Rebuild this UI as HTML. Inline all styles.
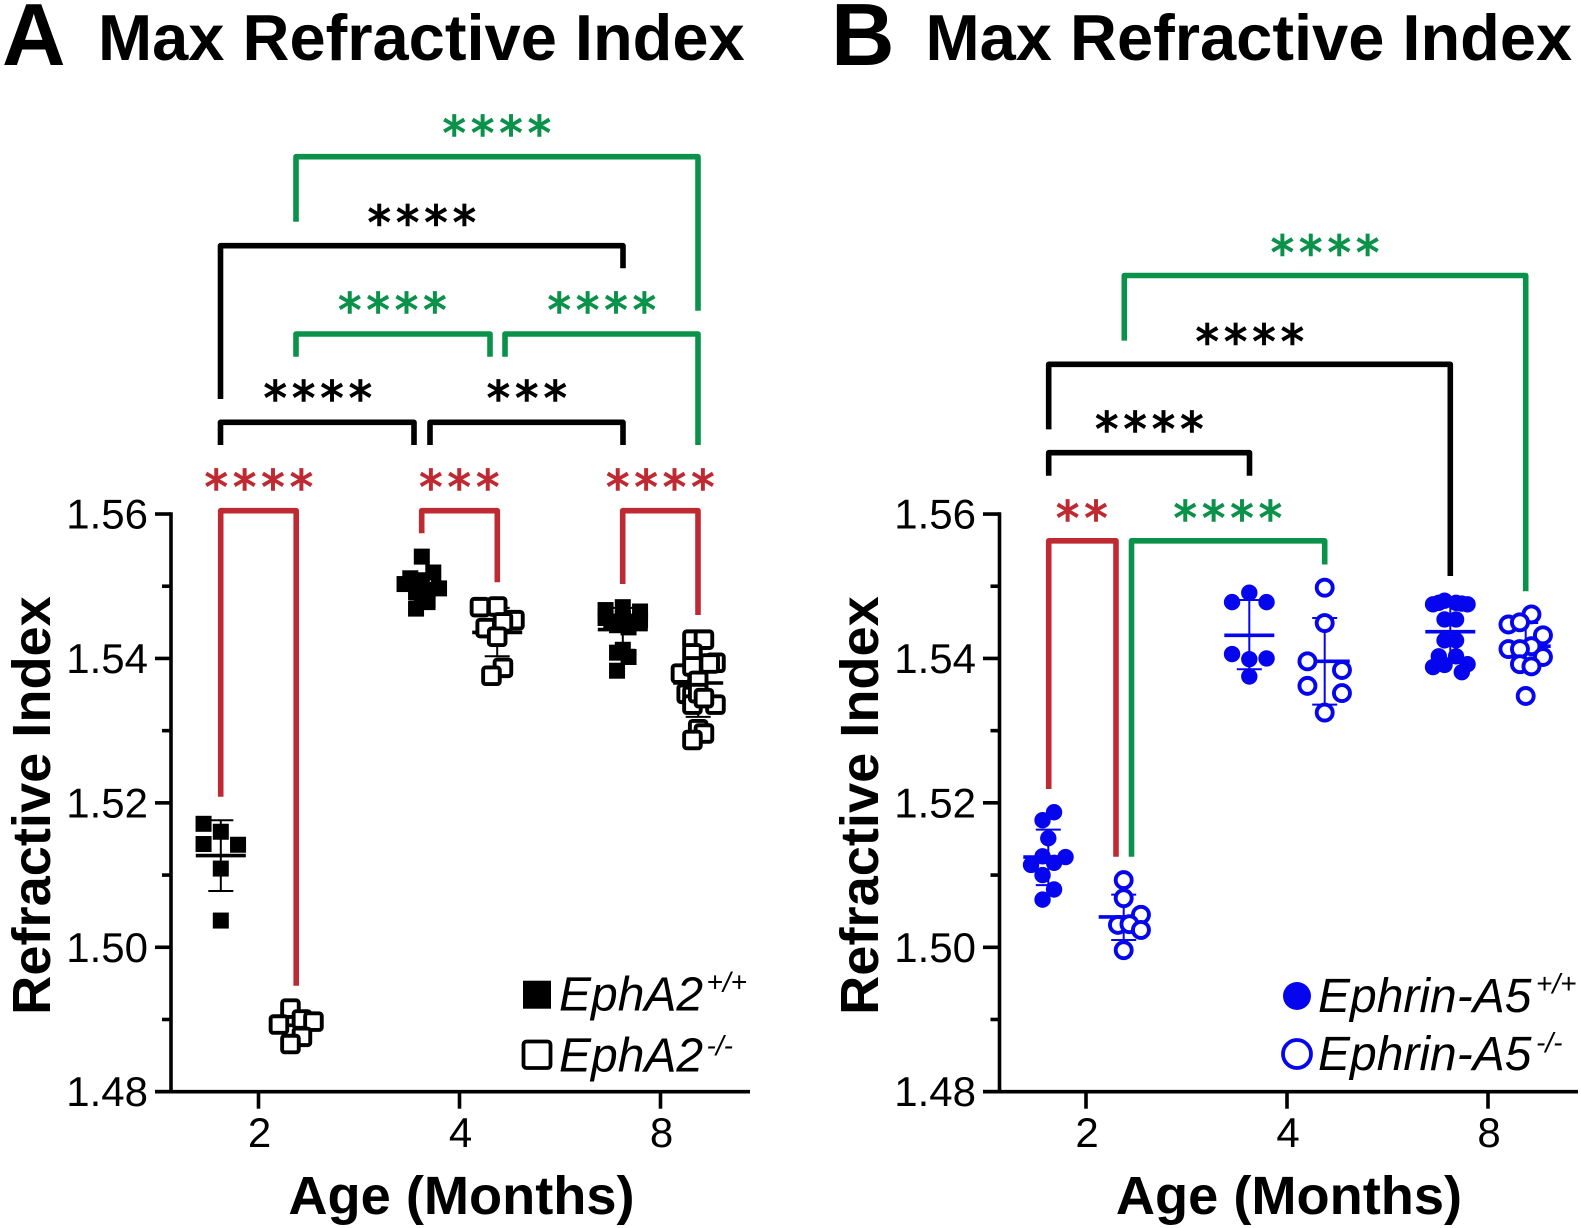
<!DOCTYPE html>
<html lang="en">
<head>
<meta charset="utf-8">
<title>Max Refractive Index</title>
<style>
html,body{margin:0;padding:0;background:#fff;}
svg{display:block;}
text{font-family:"Liberation Sans",Arial,sans-serif;fill:#000;}
.title{font-size:65px;font-weight:700;}
.letter{font-size:88px;font-weight:700;}
.axt{font-size:54.2px;font-weight:700;text-anchor:middle;}
.tick{font-size:42px;}
.leg{font-size:48px;font-style:italic;}
.sup{font-size:28px;font-style:italic;}
.stars{font-family:"DejaVu Sans",sans-serif;font-size:46px;letter-spacing:5.4px;text-anchor:middle;stroke-width:1.4px;}
.br{fill:none;stroke-width:5.6;stroke-linejoin:round;}
.red{stroke:#bf2a32;} .grn{stroke:#0b924a;} .blk{stroke:#000;}
.tred{fill:#bf2a32;stroke:#bf2a32;} .tgrn{fill:#0b924a;stroke:#0b924a;} .tblk{fill:#000;stroke:#000;}
</style>
</head>
<body>
<svg id="figure" xmlns="http://www.w3.org/2000/svg" width="1581" height="1228" viewBox="0 0 1581 1228">
  <rect width="1581" height="1228" fill="#fff"/>

  <text class="letter" x="2" y="65">A</text>
  <text class="title" x="98" y="60">Max Refractive Index</text>
  <text class="letter" x="831" y="65">B</text>
  <text class="title" x="925.5" y="60">Max Refractive Index</text>

  <text class="axt" x="50" y="0" transform="translate(50,805.5) rotate(-90) translate(-50,0)">Refractive Index</text>
  <text class="axt" x="878" y="0" transform="translate(878,805.5) rotate(-90) translate(-878,0)">Refractive Index</text>
  <text class="axt" x="461.5" y="1214">Age (Months)</text>
  <text class="axt" x="1289" y="1214">Age (Months)</text>

  <!-- Panel A significance brackets -->
  <g>
    <path class="br grn" d="M296 221.7V156.7H698V310.7"/>
    <text class="stars tgrn" x="499.5" y="149.5">****</text>
    <path class="br blk" d="M220.5 399V245.7H623V268.3"/>
    <text class="stars tblk" x="424.5" y="239">****</text>
    <path class="br grn" d="M296 356.7V334H490V356.7"/>
    <text class="stars tgrn" x="395" y="326.5">****</text>
    <path class="br grn" d="M505 356.7V334H698V445"/>
    <text class="stars tgrn" x="604.5" y="326.5">****</text>
    <path class="br blk" d="M220.5 445V422.3H414V445"/>
    <text class="stars tblk" x="320.5" y="414.5">****</text>
    <path class="br blk" d="M430 445V422.3H623V445"/>
    <text class="stars tblk" x="529.5" y="414.5">***</text>
    <path class="br red" d="M220.7 796.7V510.7H296.2V985.7"/>
    <text class="stars tred" x="261.5" y="503.5">****</text>
    <path class="br red" d="M421.7 533.3V510.7H497.3V582.3"/>
    <text class="stars tred" x="462" y="503.5">***</text>
    <path class="br red" d="M622.7 584V510.7H698V615"/>
    <text class="stars tred" x="663" y="503.5">****</text>
  </g>

  <!-- Panel B significance brackets -->
  <g>
    <path class="br grn" d="M1124.3 340.6V275.5H1525.7V591.3"/>
    <text class="stars tgrn" x="1327.7" y="269">****</text>
    <path class="br blk" d="M1048.7 429.4V364.3H1450.3V576"/>
    <text class="stars tblk" x="1252.5" y="358">****</text>
    <path class="br blk" d="M1048.7 475.7V452.7H1249.5V475.7"/>
    <text class="stars tblk" x="1152" y="445.7">****</text>
    <path class="br red" d="M1048.7 789V540.8H1116V856.7"/>
    <text class="stars tred" x="1084.5" y="534.5">**</text>
    <path class="br grn" d="M1131.5 856.7V540.8H1324.7V564.5"/>
    <text class="stars tgrn" x="1230.5" y="534.5">****</text>
  </g>

  <g id="panel-a"></g>
  <g id="panel-b"></g>

  <!-- Legends -->
  <g>
    <g>
      <rect x="523" y="980.7" width="28" height="28" fill="#000"/>
      <text class="leg" x="559" y="1010.7">EphA2</text>
      <text class="sup" x="706.5" y="991.7">+/+</text>
    </g>
    <g>
      <rect x="523.5" y="1041.5" width="27" height="26.5" rx="3" fill="#fff" stroke="#000" stroke-width="3.8"/>
      <text class="leg" x="559" y="1071.7">EphA2</text>
      <text class="sup" x="706.5" y="1055">-/-</text>
    </g>
  </g>
  <g>
    <g>
      <circle cx="1297" cy="996" r="14" fill="#0505ee"/>
      <text class="leg" x="1318" y="1012">Ephrin-A5</text>
      <text class="sup" x="1536" y="993">+/+</text>
    </g>
    <g>
      <circle cx="1297" cy="1054" r="14" fill="#fff" stroke="#0505ee" stroke-width="3.8"/>
      <text class="leg" x="1318" y="1070">Ephrin-A5</text>
      <text class="sup" x="1536" y="1052">-/-</text>
    </g>
  </g>
</svg>

<script>
// ---- axis data ----
const categories = ['2', '4', '8'];
const yTickLabels = ['1.48', '1.50', '1.52', '1.54', '1.56'];
const yMajorTicks = [1.48, 1.50, 1.52, 1.54, 1.56];
const yMinorTicks = [1.49, 1.51, 1.53, 1.55];

// ---- Panel A: EphA2 wild type ----
const aWt2 = [1.5171, 1.5160, 1.5143, 1.5142, 1.5109, 1.5037];
const aWt2Lanes = [-3, 0, -3, 3, 0, 0];
const aWt2Stats = [1.5127, 1.5176, 1.5078];
const aWt4 = [1.5541, 1.5519, 1.5511, 1.5503, 1.5506, 1.5497, 1.5495, 1.5492, 1.5481, 1.5469, 1.5478, 1.5488];
const aWt4Lanes = [0, 2, -2, -3, 0, 3, 1, -1, 1, -1, 1, 0];
const aWt4Stats = [1.5500, 1.5518, 1.5482];
const aWt8 = [1.5467, 1.5471, 1.5465, 1.5451, 1.5451, 1.5456, 1.5446, 1.5443, 1.5456, 1.5453, 1.5412, 1.5402, 1.5408, 1.5383];
const aWt8Lanes = [-3, 0, 3, -2, 2, 0, -1, 1, -3, 3, 0, 1, -1, -1];
const aWt8Stats = [1.5440, 1.5470, 1.5412];

// ---- Panel A: EphA2 knockout ----
const aKo2 = [1.4915, 1.4893, 1.4900, 1.4897, 1.4876, 1.4866];
const aKo2Lanes = [-1, -3, 1, 3, 1, -1];
const aKo2Stats = [1.4892, 1.4911, 1.4873];
const aKo4 = [1.5471, 1.5472, 1.5453, 1.5450, 1.5442, 1.5430, 1.5387, 1.5376];
const aKo4Lanes = [-3, 0, 3, 1, -2, 0, 1, -1];
const aKo4Stats = [1.5436, 1.5470, 1.5403];
const aKo8 = [1.5426, 1.5426, 1.5407, 1.5394, 1.5393, 1.5379, 1.5389, 1.5369, 1.5351, 1.5348, 1.5336, 1.5336, 1.5352, 1.5302, 1.5296, 1.5287, 1.5345];
const aKo8Lanes = [-1, 1, -1, 3, 2, -3, -1, 0, -2, -1, -1, 3, 0, 0, 1, -1, 1];
const aKo8Stats = [1.5366, 1.5413, 1.5319];

// ---- Panel B: Ephrin-A5 wild type ----
const bWt2 = [1.5187, 1.5176, 1.5151, 1.5126, 1.5125, 1.5117, 1.5114, 1.5100, 1.5080, 1.5066];
const bWt2Lanes = [1, -1, 0, -1, 3, 1, -3, -1, 1, -1];
const bWt2Stats = [1.5125, 1.5163, 1.5086];
const bWt4 = [1.5491, 1.5478, 1.5478, 1.5406, 1.5399, 1.5400, 1.5375];
const bWt4Lanes = [0, -3, 3, -3, 0, 3, 0];
const bWt4Stats = [1.5432, 1.5481, 1.5385];
const bWt8 = [1.5475, 1.5480, 1.5476, 1.5475, 1.5477, 1.5477, 1.5454, 1.5454, 1.5425, 1.5425, 1.5403, 1.5403, 1.5388, 1.5391, 1.5392, 1.5381];
const bWt8Lanes = [-3, -1, 2, 3, -2, 1, -1, 1, -1, 1, -2, 1, -3, -1, 3, 2];
const bWt8Stats = [1.5437, 1.5474, 1.5400];

// ---- Panel B: Ephrin-A5 knockout ----
const bKo2 = [1.5093, 1.5068, 1.5045, 1.5031, 1.5032, 1.5024, 1.4996];
const bKo2Lanes = [0, 0, 3, -1, 1, 3, 0];
const bKo2Stats = [1.5042, 1.5073, 1.5010];
const bKo4 = [1.5498, 1.5449, 1.5396, 1.5384, 1.5362, 1.5352, 1.5325];
const bKo4Lanes = [0, 0, -3, 3, -3, 3, 0];
const bKo4Stats = [1.5396, 1.5456, 1.5336];
const bKo8 = [1.5461, 1.5447, 1.5450, 1.5432, 1.5413, 1.5417, 1.5413, 1.5402, 1.5392, 1.5389, 1.5348];
const bKo8Lanes = [1, -3, -1, 3, -3, 1, -1, 3, -1, 1, 0];
const bKo8Stats = [1.5417, 1.5449, 1.5385];

// ---- scales ----
const NS = 'http://www.w3.org/2000/svg';
const Y_BOTTOM = 1091.7;
const PX_PER_UNIT = 7221;
function yScale(v) { return Y_BOTTOM - (v - 1.48) * PX_PER_UNIT; }
const CAT_STEP = 201;
const GROUP_OFFSET = 37.7;
const LANE = 5.75;
function xScale(firstTick, cat, isKo) { return firstTick + cat * CAT_STEP + (isKo ? GROUP_OFFSET : -GROUP_OFFSET); }

function make(tag, attrs, parent) {
  const el = document.createElementNS(NS, tag);
  for (const k in attrs) el.setAttribute(k, attrs[k]);
  parent.appendChild(el);
  return el;
}

function drawAxes(panel, axisX, leftX, rightX, firstTick, labelRight) {
  const axes = make('g', {}, panel);
  
  
  const yAxis = make('line', { x1: axisX, x2: axisX, y1: yScale(1.56) - 1.8, y2: Y_BOTTOM + 1.8, stroke: '#000', 'stroke-width': 3.6 }, axes);
  
  
  const xAxis = make('line', { x1: leftX, x2: rightX, y1: Y_BOTTOM, y2: Y_BOTTOM, stroke: '#000', 'stroke-width': 3.6 }, axes);
  
  
  yMajorTicks.forEach(function (v, i) {
    const t = make('line', { x1: leftX, x2: axisX, y1: yScale(v), y2: yScale(v), stroke: '#000', 'stroke-width': 3.6 }, axes);
    
    
    const lab = make('text', { class: 'tick', x: labelRight, y: yScale(v) + 14.5, 'text-anchor': 'end' }, axes);
    lab.textContent = yTickLabels[i];
    
    
  });
  yMinorTicks.forEach(function (v) {
    const t = make('line', { x1: axisX - 9, x2: axisX, y1: yScale(v), y2: yScale(v), stroke: '#000', 'stroke-width': 3.6 }, axes);
    
    
  });
  categories.forEach(function (c, i) {
    const x = firstTick + i * CAT_STEP;
    const t = make('line', { x1: x, x2: x, y1: Y_BOTTOM, y2: Y_BOTTOM + 17, stroke: '#000', 'stroke-width': 3.6 }, axes);
    
    
    const lab = make('text', { class: 'tick', x: x + 1, y: 1147, 'text-anchor': 'middle' }, axes);
    lab.textContent = c;
    
    
  });
}

function drawGroup(panel, cx, values, lanes, stats, color, shape, open) {
  const g = make('g', {}, panel);
  
  
  const mean = stats[0], upper = stats[1], lower = stats[2];
  const stem = make('line', { x1: cx, x2: cx, y1: yScale(upper), y2: yScale(lower), stroke: color, 'stroke-width': 2 }, g);
  
  
  [upper, lower].forEach(function (v) {
    const cap = make('line', { x1: cx - 12.5, x2: cx + 12.5, y1: yScale(v), y2: yScale(v), stroke: color, 'stroke-width': 2 }, g);
    
    
  });
  const meanLine = make('line', { x1: cx - 25, x2: cx + 25, y1: yScale(mean), y2: yScale(mean), stroke: color, 'stroke-width': 3.6 }, g);
  
  
  values.forEach(function (v, i) {
    const px = cx + lanes[i] * LANE, py = yScale(v);
    let m;
    if (shape === 'square') {
      m = open
        ? make('rect', { x: px - 8.3, y: py - 8.3, width: 16.6, height: 16.6, rx: 2.5, fill: '#fff', stroke: color, 'stroke-width': 3.9 }, g)
        : make('rect', { x: px - 8, y: py - 8, width: 16, height: 16, fill: color }, g);
    } else {
      m = open
        ? make('circle', { cx: px, cy: py, r: 8, fill: '#fff', stroke: color, 'stroke-width': 3.9 }, g)
        : make('circle', { cx: px, cy: py, r: 8.2, fill: color }, g);
    }
    
    
  });
}

const panelA = document.getElementById('panel-a');
const panelB = document.getElementById('panel-b');
const A_TICK = 258.5, B_TICK = 1086;
const BLUE = '#0505ee';

drawAxes(panelA, 171, 155, 750, A_TICK, 148);
drawAxes(panelB, 999.5, 983, 1578, B_TICK, 976);

drawGroup(panelA, xScale(A_TICK, 0, false), aWt2, aWt2Lanes, aWt2Stats, '#000', 'square', false);
drawGroup(panelA, xScale(A_TICK, 0, true), aKo2, aKo2Lanes, aKo2Stats, '#000', 'square', true);
drawGroup(panelA, xScale(A_TICK, 1, false), aWt4, aWt4Lanes, aWt4Stats, '#000', 'square', false);
drawGroup(panelA, xScale(A_TICK, 1, true), aKo4, aKo4Lanes, aKo4Stats, '#000', 'square', true);
drawGroup(panelA, xScale(A_TICK, 2, false), aWt8, aWt8Lanes, aWt8Stats, '#000', 'square', false);
drawGroup(panelA, xScale(A_TICK, 2, true), aKo8, aKo8Lanes, aKo8Stats, '#000', 'square', true);

drawGroup(panelB, xScale(B_TICK, 0, false), bWt2, bWt2Lanes, bWt2Stats, BLUE, 'circle', false);
drawGroup(panelB, xScale(B_TICK, 0, true), bKo2, bKo2Lanes, bKo2Stats, BLUE, 'circle', true);
drawGroup(panelB, xScale(B_TICK, 1, false), bWt4, bWt4Lanes, bWt4Stats, BLUE, 'circle', false);
drawGroup(panelB, xScale(B_TICK, 1, true), bKo4, bKo4Lanes, bKo4Stats, BLUE, 'circle', true);
drawGroup(panelB, xScale(B_TICK, 2, false), bWt8, bWt8Lanes, bWt8Stats, BLUE, 'circle', false);
drawGroup(panelB, xScale(B_TICK, 2, true), bKo8, bKo8Lanes, bKo8Stats, BLUE, 'circle', true);
</script>
</body>
</html>
